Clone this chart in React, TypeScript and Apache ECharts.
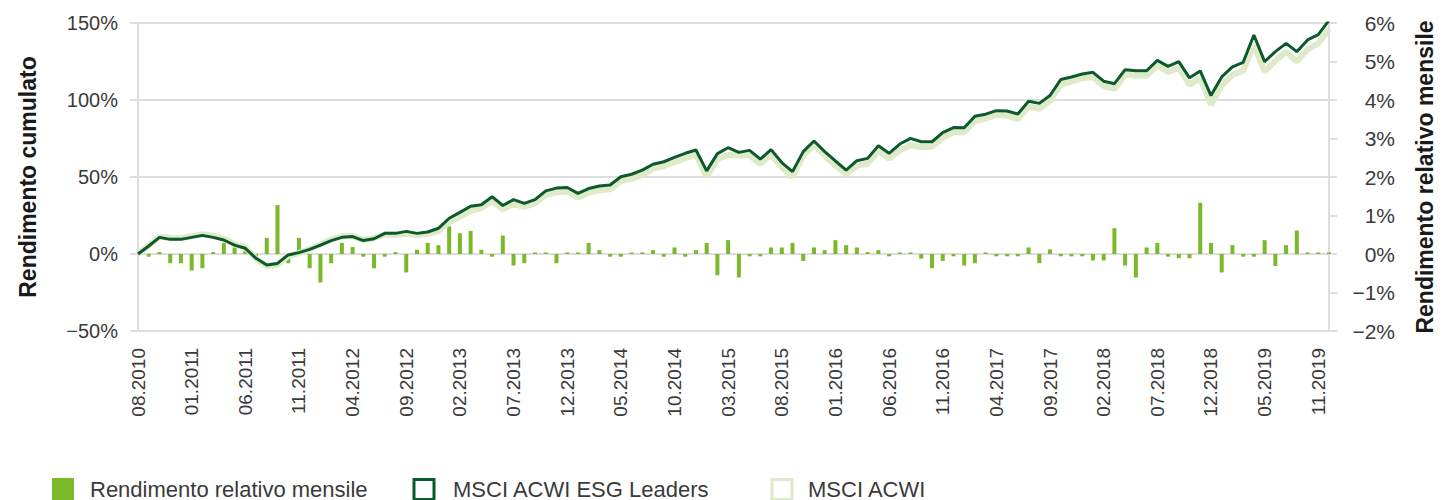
import React, { useEffect, useRef } from "react";
import * as echarts from "echarts";

const months: string[] = [
  "08.2010", "09.2010", "10.2010", "11.2010", "12.2010",
  "01.2011", "02.2011", "03.2011", "04.2011", "05.2011", "06.2011", "07.2011", "08.2011", "09.2011", "10.2011", "11.2011", "12.2011",
  "01.2012", "02.2012", "03.2012", "04.2012", "05.2012", "06.2012", "07.2012", "08.2012", "09.2012", "10.2012", "11.2012", "12.2012",
  "01.2013", "02.2013", "03.2013", "04.2013", "05.2013", "06.2013", "07.2013", "08.2013", "09.2013", "10.2013", "11.2013", "12.2013",
  "01.2014", "02.2014", "03.2014", "04.2014", "05.2014", "06.2014", "07.2014", "08.2014", "09.2014", "10.2014", "11.2014", "12.2014",
  "01.2015", "02.2015", "03.2015", "04.2015", "05.2015", "06.2015", "07.2015", "08.2015", "09.2015", "10.2015", "11.2015", "12.2015",
  "01.2016", "02.2016", "03.2016", "04.2016", "05.2016", "06.2016", "07.2016", "08.2016", "09.2016", "10.2016", "11.2016", "12.2016",
  "01.2017", "02.2017", "03.2017", "04.2017", "05.2017", "06.2017", "07.2017", "08.2017", "09.2017", "10.2017", "11.2017", "12.2017",
  "01.2018", "02.2018", "03.2018", "04.2018", "05.2018", "06.2018", "07.2018", "08.2018", "09.2018", "10.2018", "11.2018", "12.2018",
  "01.2019", "02.2019", "03.2019", "04.2019", "05.2019", "06.2019", "07.2019", "08.2019", "09.2019", "11.2019", "12.2019",
];

// Rendimento relativo mensile (%), right axis
const relativeMonthly: number[] = [
  0, -0.07, 0.05, -0.24, -0.24, -0.43, -0.37, 0.05, 0.29, 0.17,
  0.08, -0.07, 0.42, 1.27, -0.24, 0.42, -0.37, -0.74, -0.24, 0.29,
  0.18, -0.07, -0.37, -0.07, 0.05, -0.48, 0.11, 0.29, 0.23, 0.72,
  0.54, 0.6, 0.11, -0.07, 0.48, -0.3, -0.24, 0.04, 0.04, -0.24,
  0.04, 0.04, 0.29, 0.1, -0.07, -0.07, 0.04, 0.04, 0.1, -0.07,
  0.17, -0.07, 0.1, 0.29, -0.55, 0.36, -0.61, -0.06, -0.06, 0.17,
  0.17, 0.29, -0.18, 0.17, 0.1, 0.36, 0.23, 0.17, 0.05, 0.1,
  -0.06, 0.04, 0.04, -0.12, -0.37, -0.18, -0.06, -0.3, -0.24, 0.04,
  -0.06, -0.06, -0.06, 0.17, -0.24, 0.12, -0.06, -0.06, -0.06, -0.17,
  -0.17, 0.67, -0.3, -0.61, 0.17, 0.29, -0.07, -0.11, -0.11, 1.33,
  0.29, -0.48, 0.23, -0.07, -0.07, 0.36, -0.31, 0.23, 0.61, 0.04,
  0.04, 0.04,
];

// MSCI ACWI ESG Leaders, cumulative return (%)
const esgLeaders: number[] = [
  0, 5.2, 10.8, 9.5, 9.5, 10.8, 12.1, 10.8, 9.1, 5.8,
  3.7, -2.8, -7.1, -6.1, -0.6, 0.9, 3.0, 5.8, 8.7, 10.8,
  11.3, 8.7, 9.9, 13.4, 13.4, 14.7, 13.4, 14.3, 16.7, 23.2,
  27.0, 31.0, 32.0, 37.2, 31.5, 35.3, 32.9, 35.3, 41.0, 42.8,
  43.2, 39.4, 42.5, 44.2, 44.8, 50.2, 51.8, 54.5, 58.3, 59.9,
  62.7, 65.4, 67.5, 54.0, 65.2, 69.0, 66.0, 67.3, 61.6, 67.8,
  59.4, 53.5, 66.5, 73.4, 66.5, 60.4, 54.5, 60.6, 62.1, 70.3,
  65.4, 71.4, 75.1, 72.9, 72.9, 78.8, 82.1, 82.0, 89.4, 90.8,
  93.1, 92.9, 90.9, 99.2, 97.8, 102.9, 113.3, 114.9, 116.9, 118.0,
  112.2, 110.6, 119.7, 119.0, 119.0, 125.7, 121.8, 124.9, 114.4, 118.9,
  102.9, 115.0, 121.5, 124.5, 142.2, 124.9, 131.4, 136.8, 131.4, 139.0,
  142.5, 151.7,
];

// MSCI ACWI, cumulative return (%)
const msciAcwi: number[] = [
  0, 5.6, 11.2, 10.4, 10.3, 11.6, 12.8, 11.9, 10.0, 6.5,
  4.1, -3.1, -8.0, -7.0, -1.2, 0.6, 3.1, 6.2, 9.4, 11.5,
  11.8, 9.2, 10.4, 12.6, 12.5, 13.2, 12.3, 13.0, 15.0, 20.6,
  24.2, 28.0, 29.8, 34.4, 29.0, 32.6, 30.6, 33.0, 38.3, 40.0,
  40.6, 36.6, 39.8, 41.4, 42.0, 47.3, 48.8, 51.4, 55.6, 57.0,
  59.6, 62.2, 64.6, 50.2, 61.6, 64.3, 63.9, 64.0, 58.6, 64.6,
  56.3, 50.2, 63.6, 71.0, 63.8, 57.5, 51.9, 57.3, 58.7, 67.2,
  62.0, 67.3, 70.6, 69.5, 69.6, 75.6, 79.0, 79.1, 86.4, 87.9,
  90.3, 89.9, 87.6, 95.8, 94.3, 99.5, 110.2, 112.0, 114.1, 115.0,
  109.0, 107.2, 116.6, 115.9, 115.8, 122.4, 118.2, 121.0, 110.0, 114.3,
  97.0, 109.6, 116.2, 119.0, 135.8, 118.4, 125.4, 131.4, 125.0, 132.8,
  136.8, 146.0,
];

const leftTicks = { min: -50, max: 150, interval: 50 };
const rightTicks = { min: -2, max: 6, interval: 1 };

const seriesNames = ["Rendimento relativo mensile", "MSCI ACWI ESG Leaders", "MSCI ACWI"];
const axisNames = ["Rendimento cumulato", "Rendimento relativo mensile"];

const FONT = "'Liberation Sans', Arial, Helvetica, sans-serif";
const C_BAR = "#7ab929";
const C_DARK = "#0b5a2c";
const C_LIGHT = "#deeac8";
const C_GRID = "#dedede";
const C_TEXT = "#3a3a3a";

const pct = (v: number) => (v < 0 ? "\u2212" + Math.abs(v) : String(v)) + "%";

export default function App() {
  const ref = useRef<HTMLDivElement>(null);

  useEffect(() => {
    document.body.style.margin = "0";
    if (!ref.current) return;
    const chart = echarts.init(ref.current, null, { renderer: "svg" });

    const legendY = 478;
    const option: any = {
      animation: false,
      backgroundColor: "#ffffff",
      grid: { left: 138, right: 105, top: 23, bottom: 169, containLabel: false },
      xAxis: {
        type: "category",
        data: months,
        boundaryGap: false,
        axisLine: { show: false },
        axisTick: { show: false },
        splitLine: { show: false },
        axisLabel: {
          interval: 4,
          rotate: 90,
          margin: 17,
          fontSize: 19,
          color: C_TEXT,
          fontFamily: FONT,
        },
      },
      yAxis: [
        {
          type: "value",
          position: "left",
          min: leftTicks.min,
          max: leftTicks.max,
          interval: leftTicks.interval,
          name: axisNames[0],
          nameLocation: "middle",
          nameRotate: 90,
          nameGap: 99,
          nameTextStyle: { fontSize: 23, fontWeight: "bold", color: "#1a1a1a", fontFamily: FONT },
          axisLine: { show: true, lineStyle: { color: C_GRID, width: 2 } },
          axisTick: { show: true, length: 8, lineStyle: { color: C_GRID, width: 2 } },
          splitLine: { show: true, lineStyle: { color: C_GRID, width: 2 } },
          axisLabel: { formatter: pct, margin: 20, fontSize: 20, color: C_TEXT, fontFamily: FONT },
        },
        {
          type: "value",
          position: "right",
          min: rightTicks.min,
          max: rightTicks.max,
          interval: rightTicks.interval,
          name: axisNames[1],
          nameLocation: "middle",
          nameRotate: 90,
          nameGap: 84,
          nameTextStyle: { fontSize: 23, fontWeight: "bold", color: "#1a1a1a", fontFamily: FONT },
          axisLine: { show: true, lineStyle: { color: C_GRID, width: 2 } },
          axisTick: { show: true, length: 8, lineStyle: { color: C_GRID, width: 2 } },
          splitLine: { show: false },
          axisLabel: { formatter: pct, margin: 66, align: "right", fontSize: 21, color: C_TEXT, fontFamily: FONT },
        },
      ],
      series: [
        {
          name: seriesNames[0],
          type: "bar",
          yAxisIndex: 1,
          data: relativeMonthly,
          barWidth: 4,
          itemStyle: { color: C_BAR },
          z: 1,
        },
        {
          name: seriesNames[2],
          type: "line",
          yAxisIndex: 0,
          data: msciAcwi,
          symbol: "none",
          lineStyle: { color: C_LIGHT, width: 6 },
          z: 2,
        },
        {
          name: seriesNames[1],
          type: "line",
          yAxisIndex: 0,
          data: esgLeaders,
          symbol: "none",
          lineStyle: { color: C_DARK, width: 3 },
          z: 3,
        },
      ],
      graphic: [
        { type: "rect", left: 52, top: legendY, shape: { width: 22, height: 22 }, style: { fill: C_BAR } },
        {
          type: "text", left: 90, top: legendY,
          style: { text: seriesNames[0], fontSize: 22, fill: C_TEXT, fontFamily: FONT },
        },
        {
          type: "rect", x: 414, y: legendY + 1.5, shape: { width: 20, height: 20 },
          style: { fill: "#ffffff", stroke: C_DARK, lineWidth: 3 },
        },
        {
          type: "text", left: 453, top: legendY,
          style: { text: seriesNames[1], fontSize: 22, fill: C_TEXT, fontFamily: FONT },
        },
        {
          type: "rect", x: 772, y: legendY + 1.5, shape: { width: 20, height: 20 },
          style: { fill: "#ffffff", stroke: C_LIGHT, lineWidth: 3 },
        },
        {
          type: "text", left: 808, top: legendY,
          style: { text: seriesNames[2], fontSize: 22, fill: C_TEXT, fontFamily: FONT },
        },
      ],
    };

    chart.setOption(option);
    return () => chart.dispose();
  }, []);

  return (
    <div
      ref={ref}
      style={{ position: "absolute", left: 0, top: 0, width: 1444, height: 500, background: "#fff" }}
    />
  );
}
